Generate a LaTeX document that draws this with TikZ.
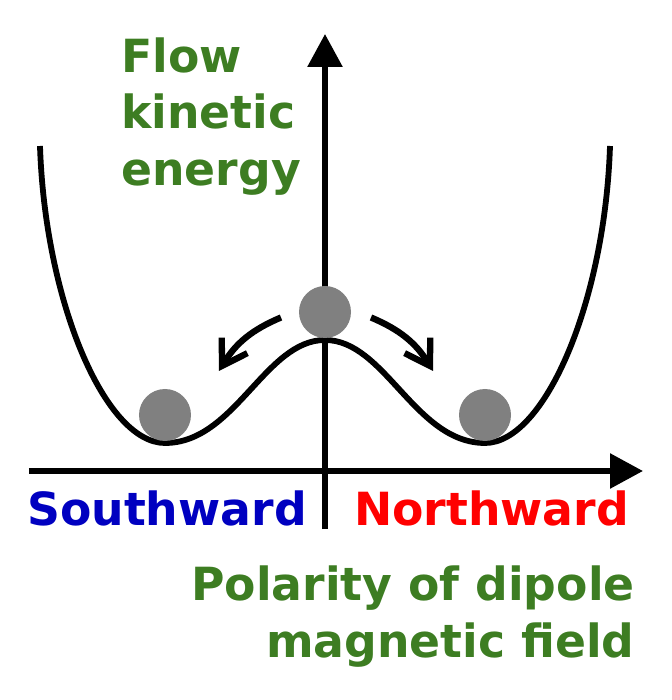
\documentclass[tikz,border=0pt]{standalone}
\usepackage{fontspec}
\setsansfont{DejaVu Sans}
\usepackage{xcolor}
\usepackage{tikz}
\usetikzlibrary{arrows.meta, positioning}
\definecolor{labelgreen}{RGB}{61,125,34}
\definecolor{southblue}{RGB}{0,0,192}
\definecolor{northred}{RGB}{255,0,0}
\tikzset{
    axisline/.style = {line width=3.3pt, -{Triangle[length=0.66cm, width=0.68cm]}},
    wellline/.style = {line width=3.3pt, line join=round},
    rollarrow/.style = {line width=3.6pt, -{Straight Barb[length=0.48cm, width=0.6cm]}},
    ballnode/.style = {circle, fill=gray, minimum size=1.04cm, inner sep=0em},
    textnode/.style = {draw=none, fill=none, rectangle, inner sep=0em,
      font=\sffamily\bfseries\fontsize{26}{32.4}\selectfont}
}

\begin{document}
\begin{tikzpicture}
    \useasboundingbox (-6.5,-4.58) rectangle (6.92,9.42);

    % axes
    \coordinate (xstart) at (-5.92,0);
    \coordinate (xend) at (6.36,0);
    \coordinate (ystart) at (0,-1.16);
    \coordinate (yend) at (0,8.74);
    \draw[axisline] (xstart) -- (xend);
    \draw[axisline] (ystart) -- (yend);

    % double well
    \coordinate (lwall) at (-5.7,6.5);
    \coordinate (lmin) at (-3.2,0.56);
    \coordinate (hump) at (0,2.62);
    \coordinate (rmin) at (3.2,0.56);
    \coordinate (rwall) at (5.7,6.5);
    \draw[wellline] (lwall) .. controls (-5.6,3.4) and (-4.4,0.56) .. (lmin)
      .. controls (-1.8,0.56) and (-1.2,2.62) .. (hump)
      .. controls (1.2,2.62) and (1.8,0.56) .. (rmin)
      .. controls (4.4,0.56) and (5.6,3.4) .. (rwall);

    % balls
    \node [ballnode, name=topball] at (0,3.18) {};
    \node [ballnode, name=leftball] at (-3.2,1.12) {};
    \node [ballnode, name=rightball] at (3.2,1.12) {};

    % rolling arrows
    \coordinate (lstart) at (-0.88,3.07);
    \coordinate (ltip) at (-2.12,2.0);
    \coordinate (rstart) at (0.92,3.07);
    \coordinate (rtip) at (2.16,2.0);
    \draw[rollarrow] (lstart) to[bend right=18] (ltip);
    \draw[rollarrow] (rstart) to[bend left=18] (rtip);

    % labels
    \node [textnode, name=energy, anchor=north west, align=left, text=labelgreen]
      at (-4.08,8.68) {Flow\\kinetic\\energy};
    \node [textnode, name=south, anchor=base, text=southblue] at (-3.16,-1.08) {Southward};
    \node [textnode, name=north, anchor=base, text=northred] at (3.33,-1.08) {Northward};
    \node [textnode, name=polarity, anchor=north east, align=right, text=labelgreen]
      at (6.2,-1.88) {Polarity of dipole\\magnetic field};
\end{tikzpicture}
\end{document}
